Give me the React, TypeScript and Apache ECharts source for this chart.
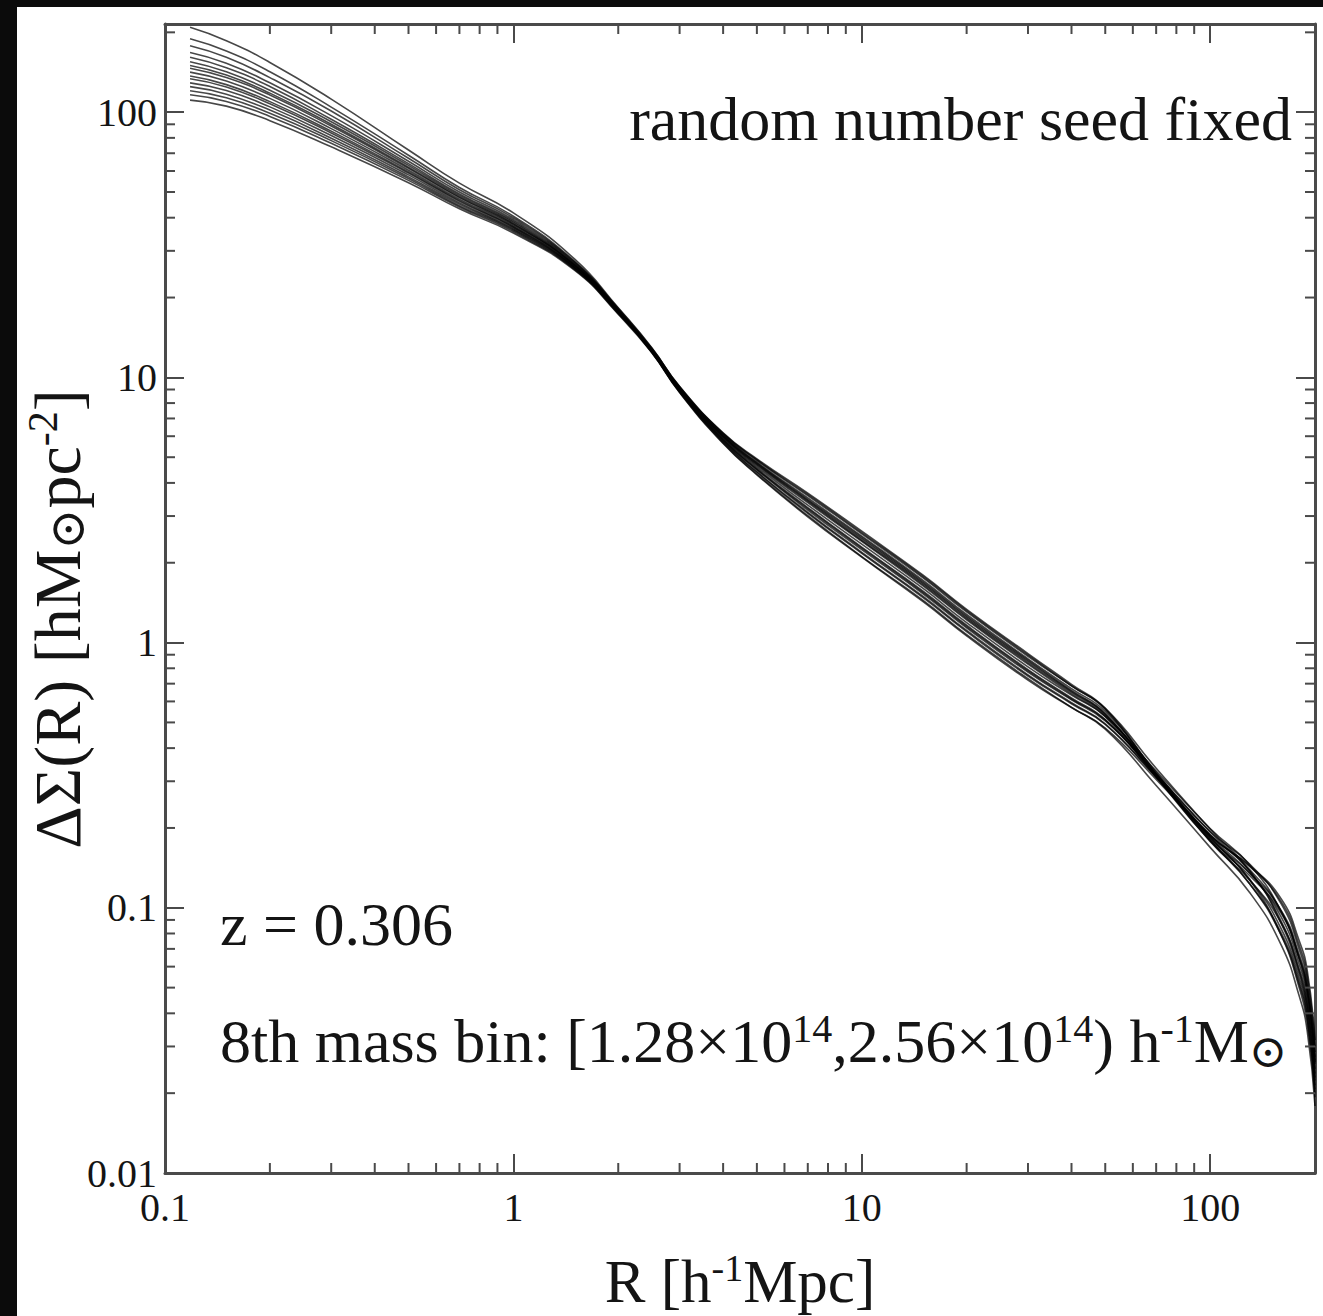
import React, { useEffect, useRef } from "react";
import * as echarts from "echarts";

// Radii (h^-1 Mpc) at which each profile is sampled
const R = [0.118, 0.15, 0.2, 0.3, 0.5, 0.7, 1, 1.5, 2, 2.5, 3, 4, 5, 7, 10, 15, 20, 30, 40, 50, 70, 100, 130, 160, 180, 190, 200];

// Delta Sigma(R) profiles (h M_sun pc^-2), one per realisation
const run01 = [209, 186, 154, 112, 72, 54, 41.7, 27.9, 18.3, 12.9, 9.17, 6.01, 4.73, 3.44, 2.46, 1.675, 1.246, 0.849, 0.655, 0.537, 0.316, 0.182, 0.135, 0.0976, 0.0668, 0.0508, 0.0274];
const run02 = [189, 170, 142, 104.5, 68.8, 52, 40.5, 27.4, 18.2, 12.86, 9.23, 6.12, 4.86, 3.58, 2.57, 1.754, 1.305, 0.888, 0.687, 0.565, 0.336, 0.198, 0.138, 0.0871, 0.0567, 0.0422, 0.0223];
const run03 = [178, 161, 135, 101, 67, 51, 39.9, 27.2, 18.1, 12.62, 8.92, 5.74, 4.41, 3.1, 2.19, 1.493, 1.111, 0.756, 0.593, 0.494, 0.311, 0.187, 0.143, 0.1055, 0.0725, 0.0554, 0.0301];
const run04 = [168, 153, 129, 97, 65.3, 50, 39.3, 27.0, 18.0, 12.82, 9.24, 6.18, 4.93, 3.66, 2.63, 1.795, 1.335, 0.909, 0.696, 0.565, 0.321, 0.181, 0.123, 0.0788, 0.0515, 0.0382, 0.0201];
const run05 = [161, 147, 125, 94, 64, 49.2, 38.8, 26.8, 17.9, 12.64, 9.02, 5.9, 4.6, 3.3, 2.35, 1.6, 1.19, 0.81, 0.634, 0.527, 0.328, 0.199, 0.145, 0.0967, 0.0641, 0.0482, 0.0258];
const run06 = [155, 142, 121, 92, 63, 48.6, 38.4, 26.6, 17.9, 12.49, 8.82, 5.66, 4.32, 3.01, 2.11, 1.443, 1.071, 0.731, 0.57, 0.472, 0.289, 0.169, 0.114, 0.0723, 0.0467, 0.0343, 0.0179];
const run07 = [150, 138, 118, 90, 62, 48, 38, 26.5, 17.8, 12.69, 9.12, 6.07, 4.79, 3.51, 2.52, 1.715, 1.277, 0.868, 0.67, 0.55, 0.324, 0.188, 0.144, 0.108, 0.0754, 0.058, 0.0317];
const run08 = [146.5, 135, 116, 88.7, 61.4, 47.6, 37.8, 26.4, 17.8, 12.54, 8.93, 5.82, 4.5, 3.2, 2.27, 1.545, 1.15, 0.783, 0.613, 0.511, 0.319, 0.193, 0.137, 0.0888, 0.058, 0.0433, 0.0229];
const run09 = [141.6, 131, 112.7, 86.7, 60.4, 47, 37.4, 26.3, 17.7, 12.6, 9.03, 5.95, 4.66, 3.37, 2.41, 1.637, 1.218, 0.829, 0.641, 0.526, 0.311, 0.179, 0.132, 0.0952, 0.0651, 0.0494, 0.0266];
const run10 = [136.8, 127, 109.6, 84.8, 59.5, 46.5, 37, 26.1, 17.7, 12.4, 8.76, 5.63, 4.29, 2.98, 2.1, 1.426, 1.06, 0.722, 0.569, 0.476, 0.305, 0.185, 0.127, 0.0786, 0.0502, 0.0369, 0.0193];
const run11 = [133.7, 124.5, 107.6, 83.5, 58.9, 46.1, 36.8, 26.0, 17.6, 12.66, 9.15, 6.15, 4.89, 3.62, 2.6, 1.775, 1.32, 0.898, 0.687, 0.559, 0.317, 0.178, 0.127, 0.0875, 0.0589, 0.0444, 0.0237];
const run12 = [129, 120.6, 104.7, 81.6, 58, 45.5, 36.4, 25.9, 17.6, 12.46, 8.87, 5.79, 4.48, 3.16, 2.24, 1.528, 1.137, 0.774, 0.608, 0.507, 0.32, 0.194, 0.146, 0.1034, 0.07, 0.0531, 0.0286];
const run13 = [124.8, 116.9, 101.8, 79.8, 57, 45, 36.1, 25.8, 17.5, 12.53, 9.01, 5.98, 4.7, 3.41, 2.43, 1.656, 1.232, 0.839, 0.649, 0.533, 0.317, 0.184, 0.128, 0.0832, 0.0545, 0.0406, 0.0214];
const run14 = [120.5, 113.3, 99, 78.1, 56.2, 44.4, 35.8, 25.6, 17.5, 12.36, 8.79, 5.71, 4.38, 3.07, 2.17, 1.477, 1.099, 0.748, 0.588, 0.491, 0.311, 0.189, 0.139, 0.0968, 0.065, 0.049, 0.0262];
const run15 = [116.4, 109.8, 96.4, 76.3, 55.3, 43.9, 35.4, 25.5, 17.4, 12.51, 9.04, 6.04, 4.76, 3.47, 2.49, 1.694, 1.261, 0.858, 0.66, 0.54, 0.313, 0.179, 0.123, 0.0802, 0.0526, 0.0392, 0.0207];
const run16 = [111, 105.4, 92.9, 74, 54.2, 43.2, 35, 25.3, 17.3, 12.38, 8.88, 5.85, 4.54, 3.23, 2.29, 1.563, 1.163, 0.791, 0.618, 0.512, 0.314, 0.186, 0.135, 0.0922, 0.0615, 0.0463, 0.0247];

const runs = [run01, run02, run03, run04, run05, run06, run07, run08, run09, run10, run11, run12, run13, run14, run15, run16];

// Axis tick labels (powers of ten)
const xTickLabels = ["0.1", "1", "10", "100"];
const yTickLabels = ["0.01", "0.1", "1", "10", "100"];
const xMinorTicks = [0.2, 0.3, 0.4, 0.5, 0.6, 0.7, 0.8, 0.9, 2, 3, 4, 5, 6, 7, 8, 9, 20, 30, 40, 50, 60, 70, 80, 90];
const yMinorTicks = [0.02, 0.03, 0.04, 0.05, 0.06, 0.07, 0.08, 0.09, 0.2, 0.3, 0.4, 0.5, 0.6, 0.7, 0.8, 0.9, 2, 3, 4, 5, 6, 7, 8, 9, 20, 30, 40, 50, 60, 70, 80, 90, 200];

const X_MIN = 0.1;
const X_MAX = 200;
const Y_MIN = 0.01;
const Y_MAX = 215;

const SERIF = "'Liberation Serif', 'Times New Roman', 'DejaVu Serif', serif";
const INK = "#141414";
const FRAME = "#4a4a4a";

const powerLabel = (labels: string[], minExp: number) => (v: number) => {
  const e = Math.log10(v);
  const r = Math.round(e);
  if (Math.abs(e - r) > 1e-4) return "";
  const s = labels[r - minExp];
  return s === undefined ? "" : s;
};

const axisBase = {
  type: "log" as const,
  logBase: 10,
  axisLine: { show: true, onZero: false, lineStyle: { color: FRAME, width: 3 } },
  axisTick: { show: true, inside: true, length: 19, lineStyle: { color: FRAME, width: 2 } },
  splitLine: { show: false },
  minorTick: { show: false },
  minorSplitLine: { show: false },
};

const tickStyle = { stroke: FRAME, lineWidth: 2 };

const richAxis = {
  n: { fontSize: 61, fontFamily: SERIF, color: INK, lineHeight: 64 },
  s: { fontSize: 38, fontFamily: SERIF, color: INK, lineHeight: 38, verticalAlign: "top" },
};

const richGraphic = (size: number) => ({
  n: { fontSize: size, fontFamily: SERIF, fill: INK, lineHeight: size + 4 },
  s: { fontSize: Math.round(size * 0.64), fontFamily: SERIF, fill: INK, lineHeight: Math.round(size * 0.64), verticalAlign: "top" },
  o: { fontSize: Math.round(size * 0.74), fontFamily: SERIF, fill: INK, lineHeight: Math.round(size * 0.84), verticalAlign: "bottom" },
});

export default function App() {
  const ref = useRef<HTMLDivElement>(null);

  useEffect(() => {
    document.body.style.margin = "0";
    if (!ref.current) return;
    const chart = echarts.init(ref.current, undefined, { renderer: "svg" });

    const lineSeries = runs.map((vals, i) => ({
      type: "line",
      name: `run ${i + 1}`,
      data: R.map((r, j) => [r, vals[j]]),
      showSymbol: false,
      smooth: 0.5,
      silent: true,
      z: 3,
      lineStyle: { color: "rgba(0,0,0,0.72)", width: 1.6 },
      emphasis: { disabled: true },
    }));

    const xMinorSeries = {
      type: "custom",
      silent: true,
      z: 5,
      data: xMinorTicks.map((v) => [v, Y_MIN]),
      renderItem: (params: any, api: any) => {
        const p = api.coord([api.value(0), Y_MIN]);
        const cs = params.coordSys;
        const b = cs.y + cs.height;
        return {
          type: "group",
          children: [
            { type: "line", shape: { x1: p[0], y1: b, x2: p[0], y2: b - 10 }, style: tickStyle },
            { type: "line", shape: { x1: p[0], y1: cs.y, x2: p[0], y2: cs.y + 10 }, style: tickStyle },
          ],
        };
      },
    };

    const yMinorSeries = {
      type: "custom",
      silent: true,
      z: 5,
      data: yMinorTicks.map((v) => [X_MIN, v]),
      renderItem: (params: any, api: any) => {
        const p = api.coord([X_MIN, api.value(1)]);
        const cs = params.coordSys;
        const rgt = cs.x + cs.width;
        return {
          type: "group",
          children: [
            { type: "line", shape: { x1: cs.x, y1: p[1], x2: cs.x + 10, y2: p[1] }, style: tickStyle },
            { type: "line", shape: { x1: rgt, y1: p[1], x2: rgt - 10, y2: p[1] }, style: tickStyle },
          ],
        };
      },
    };

    chart.setOption({
      animation: false,
      backgroundColor: "#ffffff",
      grid: { left: 148, top: 17, width: 1150, height: 1149, containLabel: false, outerBoundsMode: "none" },
      xAxis: [
        {
          ...axisBase,
          position: "bottom",
          min: X_MIN,
          max: X_MAX,
          axisLabel: {
            formatter: powerLabel(xTickLabels, -1),
            fontSize: 40,
            fontFamily: SERIF,
            color: INK,
            margin: 14,
            showMinLabel: true,
            showMaxLabel: true,
          },
          name: "{n|R [h}{s|-1}{n|Mpc]}",
          nameLocation: "middle",
          nameGap: 76,
          nameTextStyle: { rich: richAxis },
        },
        {
          ...axisBase,
          position: "top",
          min: X_MIN,
          max: X_MAX,
          axisLabel: { show: false },
        },
      ],
      yAxis: [
        {
          ...axisBase,
          position: "left",
          min: Y_MIN,
          max: Y_MAX,
          axisLabel: {
            formatter: powerLabel(yTickLabels, -2),
            fontSize: 40,
            fontFamily: SERIF,
            color: INK,
            margin: 8,
            showMinLabel: true,
            showMaxLabel: true,
          },
        },
        {
          ...axisBase,
          position: "right",
          min: Y_MIN,
          max: Y_MAX,
          axisLabel: { show: false },
        },
      ],
      graphic: [
        {
          type: "text",
          x: 40,
          y: 612,
          rotation: Math.PI / 2,
          style: {
            text: "{n|ΔΣ(R) [hM}{o|⊙}{n|pc}{s|-2}{n|]}",
            align: "center",
            verticalAlign: "middle",
            rich: richGraphic(66),
          },
        },
        {
          type: "text",
          x: 1275,
          y: 112,
          style: {
            text: "random number seed fixed",
            fontSize: 62,
            fontFamily: SERIF,
            fill: INK,
            align: "right",
            verticalAlign: "middle",
          },
        },
        {
          type: "text",
          x: 203,
          y: 917,
          style: {
            text: "z = 0.306",
            fontSize: 62,
            fontFamily: SERIF,
            fill: INK,
            align: "left",
            verticalAlign: "middle",
          },
        },
        {
          type: "text",
          x: 203,
          y: 1034,
          style: {
            text: "{n|8th mass bin: [1.28×10}{s|14}{n|,2.56×10}{s|14}{n|) h}{s|-1}{n|M}{o|⊙}",
            align: "left",
            verticalAlign: "middle",
            rich: richGraphic(62),
          },
        },
      ],
      series: [...lineSeries, xMinorSeries, yMinorSeries],
    });

    return () => {
      chart.dispose();
    };
  }, []);

  return (
    <div style={{ position: "relative", width: 1323, height: 1316, background: "#0b0b0b", overflow: "hidden" }}>
      <div
        ref={ref}
        style={{ position: "absolute", left: 17, top: 7, width: 1306, height: 1309, background: "#ffffff" }}
      />
    </div>
  );
}
